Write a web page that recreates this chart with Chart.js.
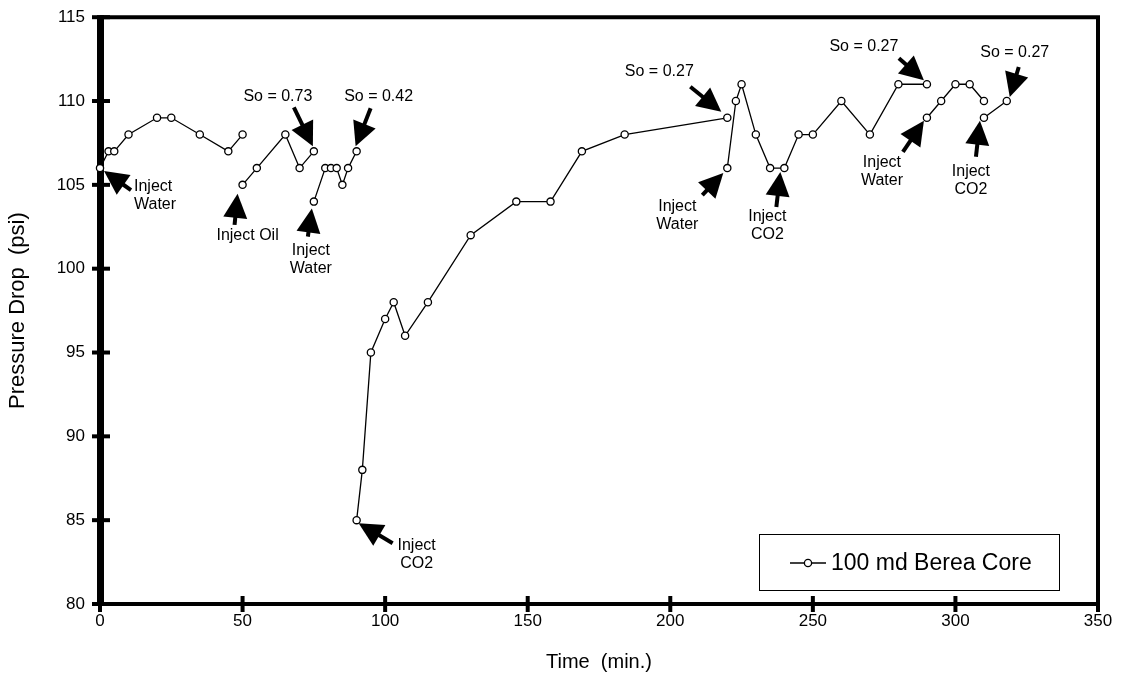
<!DOCTYPE html>
<html>
<head>
<meta charset="utf-8">
<script src="https://cdn.jsdelivr.net/npm/chart.js@4.4.1/dist/chart.umd.min.js"></script>
<style>
  html, body { margin: 0; padding: 0; background: #fff; }
  #wrap { width: 1121px; height: 688px; }
</style>
</head>
<body>
<div id="wrap"><canvas id="chart" width="1121" height="688"></canvas></div>
<script>
// time (min) and pressure drop (psi), one pair per unbroken run of the curve
const runTime1 = [0, 3, 5, 10, 20, 25, 35, 45, 50];
const runPsi1  = [106, 107, 107, 108, 109, 109, 108, 107, 108];
const runTime2 = [50, 55, 65, 70, 75];
const runPsi2  = [105, 106, 108, 106, 107];
const runTime3 = [75, 79, 81, 83, 85, 87, 90];
const runPsi3  = [104, 106, 106, 106, 105, 106, 107];
const runTime4 = [90, 92, 95, 100, 103, 107, 115, 130, 146, 158, 169, 184, 220];
const runPsi4  = [85, 88, 95, 97, 98, 96, 98, 102, 104, 104, 107, 108, 109];
const runTime5 = [220, 223, 225, 230, 235, 240, 245, 250, 260, 270, 280, 290];
const runPsi5  = [106, 110, 111, 108, 106, 106, 108, 108, 110, 108, 111, 111];
const runTime6 = [290, 295, 300, 305, 310];
const runPsi6  = [109, 110, 111, 111, 110];
const runTime7 = [310, 318];
const runPsi7  = [109, 110];

const xTickValues = [0, 50, 100, 150, 200, 250, 300, 350];
const yTickValues = [80, 85, 90, 95, 100, 105, 110, 115];

const seriesLabel = '100 md Berea Core';

// arrow notes: anchored on a data point, offsets in px
const notes = [
  { at: [0, 106],   tip: [4, 3],   tail: [31, 22],  pos: [34, 19],  text: ['Inject', 'Water'], align: 'left' },
  { at: [50, 105],  tip: [-5, 9],  tail: [-8, 40],  pos: [5, 51],   text: ['Inject Oil'] },
  { at: [75, 107],  tip: [-1, -5], tail: [-20, -44], pos: [-36, -55], text: ['So = 0.73'] },
  { at: [75, 104],  tip: [-2, 7],  tail: [-6, 35],  pos: [-3, 49],  text: ['Inject', 'Water'] },
  { at: [90, 107],  tip: [-1, -5], tail: [14, -43], pos: [22, -55], text: ['So = 0.42'] },
  { at: [90, 85],   tip: [2, 3],   tail: [36, 23],  pos: [60, 25],  text: ['Inject', 'CO2'] },
  { at: [220, 109], tip: [-6, -6], tail: [-37, -31], pos: [-68, -46], text: ['So = 0.27'] },
  { at: [220, 106], tip: [-4, 5],  tail: [-25, 27], pos: [-50, 39], text: ['Inject', 'Water'] },
  { at: [240, 106], tip: [-4, 4],  tail: [-8, 39],  pos: [-17, 49], text: ['Inject', 'CO2'] },
  { at: [290, 111], tip: [-3, -4], tail: [-28, -26], pos: [-63, -38], text: ['So = 0.27'] },
  { at: [290, 109], tip: [-3, 3],  tail: [-24, 34], pos: [-45, 45], text: ['Inject', 'Water'] },
  { at: [310, 109], tip: [-4, 3],  tail: [-8, 39],  pos: [-13, 54], text: ['Inject', 'CO2'] },
  { at: [318, 110], tip: [3, -4],  tail: [12, -34], pos: [8, -48],  text: ['So = 0.27'] }
];

const runs = [
  [runTime1, runPsi1], [runTime2, runPsi2], [runTime3, runPsi3], [runTime4, runPsi4],
  [runTime5, runPsi5], [runTime6, runPsi6], [runTime7, runPsi7]
];

// a null between runs breaks the line
const points = [];
runs.forEach(([t, p], i) => {
  if (i > 0) points.push({ x: t[0], y: null });
  t.forEach((v, j) => points.push({ x: v, y: p[j] }));
});

const FONT = '"Liberation Sans", Arial, Helvetica, sans-serif';

const framePlugin = {
  id: 'frame',
  beforeDatasetsDraw(chart) {
    const { ctx, chartArea: { left, right, top, bottom }, scales: { x, y } } = chart;
    ctx.save();
    ctx.strokeStyle = '#000';
    ctx.fillStyle = '#000';
    ctx.lineWidth = 4;
    ctx.beginPath();
    ctx.moveTo(left, top);
    ctx.lineTo(right, top);
    ctx.lineTo(right, bottom);
    ctx.lineTo(left, bottom);
    ctx.stroke();
    ctx.fillRect(left - 3, top - 2, 7, bottom - top + 4);

    ctx.lineWidth = 4;
    xTickValues.forEach(v => {
      const px = x.getPixelForValue(v);
      ctx.beginPath();
      ctx.moveTo(px, bottom - 8);
      ctx.lineTo(px, bottom + 8);
      ctx.stroke();
    });
    yTickValues.forEach(v => {
      const py = y.getPixelForValue(v);
      ctx.beginPath();
      ctx.moveTo(left - 8, py);
      ctx.lineTo(left + 10, py);
      ctx.stroke();
    });
    ctx.restore();
  }
};

const notesPlugin = {
  id: 'notes',
  afterDatasetsDraw(chart) {
    const { ctx, scales: { x, y } } = chart;
    ctx.save();
    ctx.strokeStyle = '#000';
    ctx.fillStyle = '#000';
    notes.forEach(n => {
      const px = x.getPixelForValue(n.at[0]);
      const py = y.getPixelForValue(n.at[1]);
      const tx = px + n.tip[0], ty = py + n.tip[1];
      const sx = px + n.tail[0], sy = py + n.tail[1];
      const a = Math.atan2(ty - sy, tx - sx);
      const headLen = 24, headHalf = 12;
      const bx = tx - headLen * Math.cos(a), by = ty - headLen * Math.sin(a);

      ctx.lineWidth = 4;
      ctx.lineCap = 'butt';
      ctx.beginPath();
      ctx.moveTo(sx, sy);
      ctx.lineTo(bx + 2 * Math.cos(a), by + 2 * Math.sin(a));
      ctx.stroke();

      ctx.beginPath();
      ctx.moveTo(tx, ty);
      ctx.lineTo(bx + headHalf * Math.sin(a), by - headHalf * Math.cos(a));
      ctx.lineTo(bx - headHalf * Math.sin(a), by + headHalf * Math.cos(a));
      ctx.closePath();
      ctx.fill();

      ctx.font = '16px ' + FONT;
      ctx.textAlign = n.align || 'center';
      ctx.textBaseline = 'middle';
      n.text.forEach((s, i) => ctx.fillText(s, px + n.pos[0], py + n.pos[1] + i * 18));
    });
    ctx.restore();
  }
};

const legendPlugin = {
  id: 'boxLegend',
  afterDraw(chart) {
    const { ctx, chartArea: { right, bottom } } = chart;
    const bx = right - 339, by = bottom - 70, bw = 300, bh = 56;
    ctx.save();
    ctx.fillStyle = '#fff';
    ctx.fillRect(bx, by, bw, bh);
    ctx.strokeStyle = '#000';
    ctx.lineWidth = 1;
    ctx.strokeRect(bx + 0.5, by + 0.5, bw, bh);

    const cy = by + 29;
    ctx.lineWidth = 1.3;
    ctx.beginPath();
    ctx.moveTo(bx + 31, cy);
    ctx.lineTo(bx + 67, cy);
    ctx.stroke();
    ctx.beginPath();
    ctx.arc(bx + 49, cy, 3.6, 0, Math.PI * 2);
    ctx.fillStyle = '#fff';
    ctx.fill();
    ctx.stroke();

    ctx.fillStyle = '#000';
    ctx.font = '23px ' + FONT;
    ctx.textAlign = 'left';
    ctx.textBaseline = 'middle';
    ctx.fillText(seriesLabel, bx + 72, cy + 1);
    ctx.restore();
  }
};

new Chart(document.getElementById('chart').getContext('2d'), {
  type: 'line',
  data: {
    datasets: [{
      label: seriesLabel,
      data: points,
      borderColor: '#000',
      borderWidth: 1.3,
      backgroundColor: '#fff',
      pointRadius: 3.6,
      pointBorderWidth: 1.3,
      pointBackgroundColor: '#fff',
      pointBorderColor: '#000',
      tension: 0,
      spanGaps: false,
      clip: false
    }]
  },
  options: {
    responsive: false,
    animation: false,
    devicePixelRatio: 1,
    layout: { padding: { left: 0, right: 23, top: 17, bottom: 0 } },
    plugins: {
      legend: { display: false },
      tooltip: { enabled: false }
    },
    scales: {
      x: {
        type: 'linear',
        min: 0,
        max: 350,
        afterBuildTicks: s => { s.ticks = xTickValues.map(v => ({ value: v })); },
        afterFit: s => { s.height = 84; },
        ticks: {
          color: '#000',
          padding: 0,
          maxRotation: 0,
          font: { family: FONT, size: 17 }
        },
        grid: { display: true, drawOnChartArea: false, drawTicks: true, tickLength: 7, tickColor: 'rgba(0,0,0,0)' },
        border: { display: false },
        title: {
          display: true,
          text: 'Time  (min.)',
          color: '#000',
          font: { family: FONT, size: 20 },
          padding: { top: 0, bottom: 14 }
        }
      },
      y: {
        type: 'linear',
        min: 80,
        max: 115,
        afterBuildTicks: s => { s.ticks = yTickValues.map(v => ({ value: v })); },
        afterFit: s => { s.width = 100; },
        ticks: {
          color: '#000',
          padding: 7,
          font: { family: FONT, size: 17 }
        },
        grid: { display: true, drawOnChartArea: false, drawTicks: true, tickLength: 8, tickColor: 'rgba(0,0,0,0)' },
        border: { display: false },
        title: {
          display: true,
          text: 'Pressure Drop  (psi)',
          color: '#000',
          font: { family: FONT, size: 22 },
          padding: { top: 5, bottom: 0 }
        }
      }
    }
  },
  plugins: [framePlugin, notesPlugin, legendPlugin]
});
</script>
</body>
</html>
